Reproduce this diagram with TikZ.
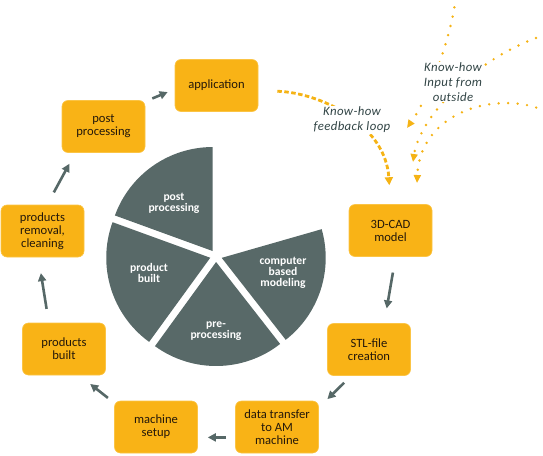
\documentclass[tikz,border=0pt]{standalone}
\usepackage{fontspec}
\setmainfont{Carlito}
\newfontfamily\labelfont[LetterSpace=3.0]{Carlito}
\usetikzlibrary{arrows.meta,calc}
\definecolor{boxyellow}{HTML}{F9B316}
\definecolor{boxedge}{HTML}{FBC445}
\definecolor{piegrey}{HTML}{586968}
\definecolor{arrowgrey}{HTML}{566867}
\definecolor{labeltext}{HTML}{324546}
\definecolor{boxtext}{HTML}{24180A}
\definecolor{linkyellow}{HTML}{F5B315}
\begin{document}
\begin{tikzpicture}[x=1pt,y=-1pt,
  stepbox/.style={draw=boxedge, line width=0.6pt, fill=boxyellow, rounded corners=6pt,
    minimum width=83pt, minimum height=52pt, align=center,
    font=\fontsize{12.6}{13}\selectfont, text=boxtext, inner sep=2pt},
  cyclearrow/.style={draw=arrowgrey, line width=2.6pt, -{Triangle[length=8pt,width=8pt]}},
  piesector/.style={fill=piegrey},
  pielabel/.style={text=white, font=\fontsize{11.6}{11}\selectfont\bfseries, align=center, inner sep=0pt},
  knowlabel/.style={text=labeltext, font={\labelfont\itshape\fontsize{12.8}{15}\selectfont}, align=center, fill=white, inner sep=1pt},
  feedback/.style={draw=linkyellow, line width=2.8pt, dash pattern=on 4.5pt off 2.5pt, -{Triangle[length=8pt,width=8pt]}},
  outside/.style={draw=linkyellow, line width=2.7pt, line cap=round, dash pattern=on 0pt off 9.5pt, -{Triangle[length=8pt,width=7pt]}}
]
\useasboundingbox (0,0) rectangle (543,455);

% pie
\begin{scope}[shift={(216,256)}]
\begin{scope}[y=1pt]
  \fill[piesector, shift={(124:6)}] (0,0) -- (90:104) arc[start angle=90, end angle=160, radius=104] -- cycle;
  \fill[piesector, shift={(197:6)}] (0,0) -- (160:104) arc[start angle=160, end angle=234, radius=104] -- cycle;
  \fill[piesector, shift={(271:6)}] (0,0) -- (234:104) arc[start angle=234, end angle=308, radius=104] -- cycle;
  \fill[piesector, shift={(342:6)}] (0,0) -- (308:104) arc[start angle=308, end angle=376, radius=104] -- cycle;
\end{scope}
\end{scope}
\node[pielabel] (lpost) at (174,203) {post\\processing};
\node[pielabel] (lbuilt) at (149,273) {product\\built};
\node[pielabel] (lcomp) at (283,273) {computer\\based\\modeling};
\node[pielabel] (lpre) at (216,331) {pre-\\processing};

% boxes
\node[stepbox] (app) at (216.5,85.5) {application};
\node[stepbox] (post) at (103.5,126.5) {post\\processing};
\node[stepbox] (removal) at (42.5,231) {products\\removal,\\cleaning};
\node[stepbox] (built) at (64,349) {products\\built};
\node[stepbox] (setup) at (156,427) {machine\\setup};
\node[stepbox] (data) at (277,427) {data transfer\\to AM\\machine};
\node[stepbox] (stl) at (369,349.5) {STL-file\\creation};
\node[stepbox] (cad) at (390.5,230.5) {3D-CAD\\model};

% cycle arrows
\draw[cyclearrow, shorten <=7.6pt, shorten >=7.6pt] (post.31) -- (app.185);
\draw[cyclearrow, shorten <=14pt, shorten >=12.5pt] (removal.80) -- (post.223);
\draw[cyclearrow, shorten <=14pt, shorten >=16pt] (built.120) -- (removal.261);
\draw[cyclearrow, shorten <=8pt, shorten >=14pt] (setup.150) -- (built.300);
\draw[cyclearrow, shorten <=9pt, shorten >=10pt] (data.194) -- (setup.346);
\draw[cyclearrow, shorten <=10pt, shorten >=12pt] (stl.236) -- (data.25);
\draw[cyclearrow, shorten <=16pt, shorten >=15pt] (cad.281) -- (stl.60);

% feedback loop
\draw[feedback, shorten <=19pt, shorten >=19pt] (app.-7) .. controls +(62,2) and +(-5,-80) .. (cad.north);

% input from outside
\coordinate (inA) at (456,-2);
\coordinate (tipA) at (407,128);
\coordinate (inB) at (545,35);
\coordinate (tipB) at (413,162);
\coordinate (inC) at (545,111);
\coordinate (tipC) at (417,183);
\draw[outside] (inA) .. controls +(-6,42) and +(23,-33) .. (tipA);
\draw[outside] (inB) .. controls +(-65,20) and +(7,-47) .. (tipB);
\draw[outside] (inC) .. controls +(-45,-21) and +(3,-73) .. (tipC);

\node[knowlabel] (kfb) at (352,120) {Know-how\\feedback loop};
\node[knowlabel] (kin) at (453,82) {Know-how\\Input from\\outside};
\end{tikzpicture}
\end{document}
